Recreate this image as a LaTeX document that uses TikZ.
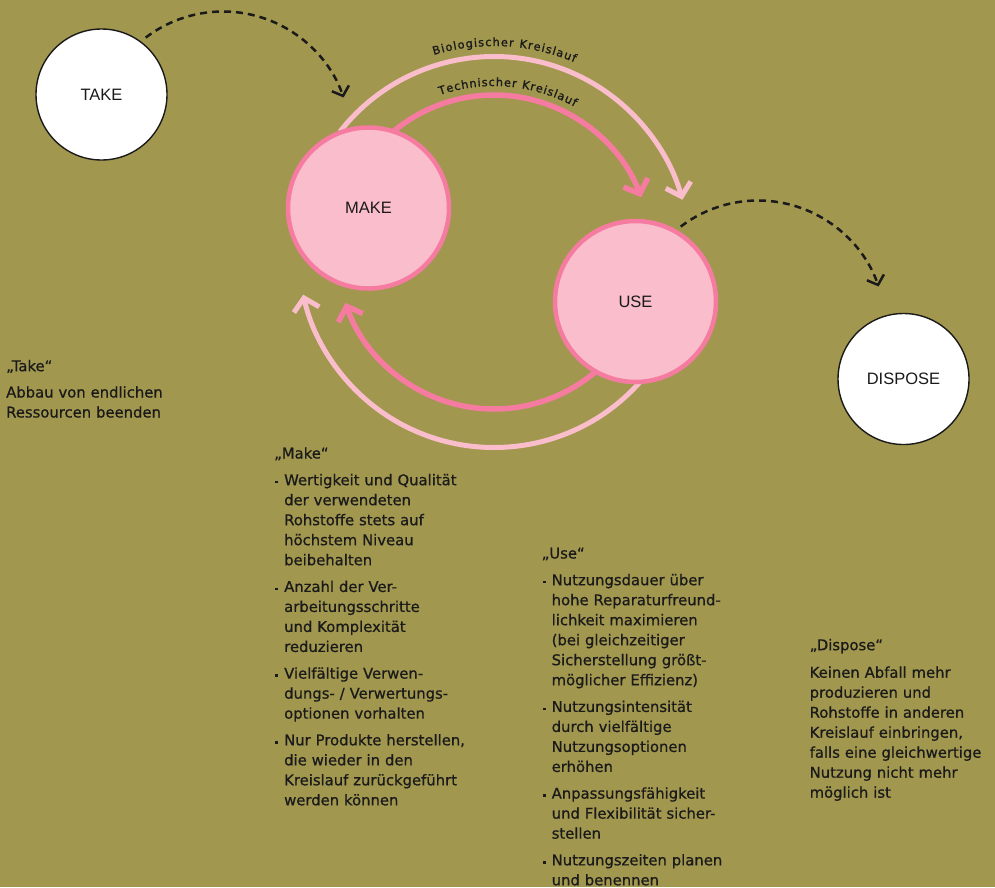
\documentclass[tikz,border=0pt]{standalone}
\usepackage{fontspec}
\setmainfont{DejaVu Sans}[FakeBold=0.7]
\newfontfamily\labelfamily{Liberation Sans}
\newfontfamily\arcfamily{DejaVu Sans}[FakeBold=1.2]
\usetikzlibrary{arrows.meta,decorations.text}

\definecolor{olive}{RGB}{161,151,79}
\definecolor{blush}{RGB}{249,189,203}
\definecolor{rose}{RGB}{245,123,160}
\definecolor{ink}{RGB}{26,26,26}

\newcommand{\bodysize}{\fontsize{14.8pt}{20pt}\selectfont}
\newcommand{\labelsize}{\labelfamily\fontsize{16.5pt}{18pt}\selectfont}
\newcommand{\arcstyle}{\arcfamily\fontsize{11.3pt}{12pt}\selectfont\color{ink}}
% bullet item with hanging indent; \\ breaks a line inside the item
\newcommand{\bitem}[1]{\par\hangindent=10pt\hangafter=1\noindent
  \makebox[10pt][l]{\hspace{1.2pt}\rule[1.8pt]{2.6pt}{2.6pt}}%
  {\let\\\newline #1}}

\tikzset{
  whiteball/.style={circle, draw=ink, line width=1.4pt, fill=white,
    minimum size=131pt, inner sep=0pt, font=\labelsize, text=ink},
  pinkball/.style={circle, draw=rose, line width=4.5pt, fill=blush,
    minimum size=161pt, inner sep=0pt, font=\labelsize, text=ink},
  bioflow/.style={draw=blush, line width=5pt,
    -{Straight Barb[length=12pt,width=26pt]}},
  techflow/.style={draw=rose, line width=5.5pt,
    -{Straight Barb[length=12pt,width=26pt]}},
  dashflow/.style={draw=ink, line width=2.5pt, dash pattern=on 7pt off 5pt,
    -{Straight Barb[length=8pt,width=18pt]}},
  textblock/.style={anchor=north west, inner sep=0pt, text width=230pt,
    font=\bodysize, text=ink},
  arclabel/.style={decorate, decoration={text along path,
    text align={fit to path}}},
}

\begin{document}
\begin{tikzpicture}[x=1pt,y=-1pt]
  \useasboundingbox (0,0) rectangle (995,887);
  \fill[olive] (0,0) rectangle (995,887);

  % centre of the two loops and of the two dashed bends
  \coordinate (hub) at (494,252);
  \coordinate (takebend) at (223,139);
  \coordinate (usebend) at (758,328);

  % biological loop (outer) and technical loop (inner)
  \draw[bioflow] (hub) ++(-142:195.5) arc[start angle=-142, end angle=-15.5, radius=195.5];
  \draw[bioflow] (hub) ++(41:195.5) arc[start angle=41, end angle=167.4, radius=195.5];
  \draw[techflow] (hub) ++(-130:157) arc[start angle=-130, end angle=-20.4, radius=157];
  \draw[techflow] (hub) ++(49:157) arc[start angle=49, end angle=161.1, radius=157];

  \path[arclabel, decoration={text={|\arcstyle|Biologischer Kreislauf}}]
    (hub) ++(-107:206) arc[start angle=-107, end angle=-67, radius=206];
  \path[arclabel, decoration={text={|\arcstyle|Technischer Kreislauf}}]
    (hub) ++(-109:166) arc[start angle=-109, end angle=-61, radius=166];

  % stages
  \node[whiteball] (take) at (101.5,94.5) {TAKE};
  \node[pinkball] (make) at (368.5,208) {MAKE};
  \node[pinkball] (use) at (635.5,301.5) {USE};
  \node[whiteball] (dispose) at (903.5,379) {DISPOSE};

  % entry and exit of the loop
  \draw[dashflow] (takebend) ++(-127.3:127.5) arc[start angle=-127.3, end angle=-19, radius=127.5];
  \draw[dashflow] (usebend) ++(-127.3:127.5) arc[start angle=-127.3, end angle=-19, radius=127.5];

  % explanations
  \node[textblock] (taketext) at (6,357) {\raggedright\setlength{\parskip}{6.3pt}%
    \strut„Take“\par
    Abbau von endlichen\\Ressourcen beenden\par};

  \node[textblock] (maketext) at (274,444.3) {\raggedright\setlength{\parskip}{6.7pt}%
    \strut„Make“
    \bitem{Wertigkeit und Qualität\\der verwendeten\\Rohstoffe stets auf\\höchstem Niveau\\beibehalten}
    \bitem{Anzahl der Ver-\\arbeitungsschritte\\und Komplexität\\reduzieren}
    \bitem{Vielfältige Verwen-\\dungs- / Verwertungs-\\optionen vorhalten}
    \bitem{Nur Produkte herstellen,\\die wieder in den\\Kreislauf zurückgeführt\\werden können}\par};

  \node[textblock] (usetext) at (541.5,544.3) {\raggedright\setlength{\parskip}{6.7pt}%
    \strut„Use“
    \bitem{Nutzungsdauer über\\hohe Reparaturfreund-\\lichkeit maximieren\\(bei gleichzeitiger\\Sicherstellung größt-\\möglicher Effizienz)}
    \bitem{Nutzungsintensität\\durch vielfältige\\Nutzungsoptionen\\erhöhen}
    \bitem{Anpassungsfähigkeit\\und Flexibilität sicher-\\stellen}
    \bitem{Nutzungszeiten planen\\und benennen}\par};

  \node[textblock] (disposetext) at (809.5,636) {\raggedright\setlength{\parskip}{7.5pt}%
    \strut„Dispose“\par
    Keinen Abfall mehr\\produzieren und\\Rohstoffe in anderen\\Kreislauf einbringen,\\falls eine gleichwertige\\Nutzung nicht mehr\\möglich ist\par};
\end{tikzpicture}
\end{document}
